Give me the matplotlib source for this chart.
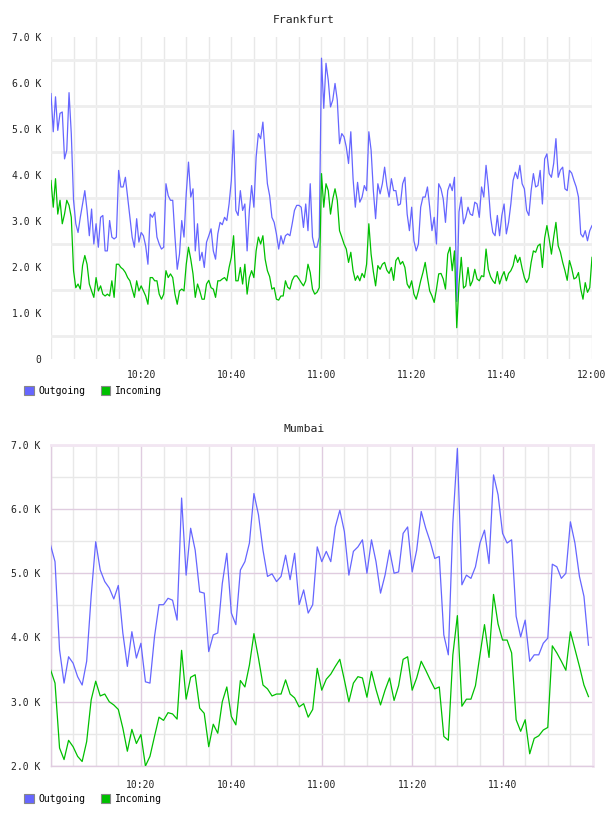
import numpy as np
import pandas as pd
import matplotlib
matplotlib.use("Agg")
import matplotlib.pyplot as plt
import matplotlib.dates as mdates
from matplotlib.patches import Patch
from matplotlib.ticker import FixedLocator

plt.rcParams['font.family'] = ['DejaVu Sans Mono']

# ---------------- data ----------------
fra_out = [5.77, 4.94, 5.70, 4.97, 5.34, 5.37, 4.35, 4.54, 5.79, 4.90,
           3.45, 2.94, 2.75, 3.08, 3.37, 3.66, 3.23, 2.68, 3.26, 2.50,
           2.94, 2.43, 3.08, 3.12, 2.35, 2.35, 3.01, 2.65, 2.61, 2.65,
           4.10, 3.74, 3.74, 3.95, 3.52, 3.08, 2.65, 2.43, 3.05, 2.54,
           2.75, 2.68, 2.46, 2.06, 3.15, 3.08, 3.19, 2.65, 2.50, 2.39,
           2.43, 3.81, 3.55, 3.45, 3.45, 2.65, 1.95, 2.28, 3.01, 2.65,
           3.60, 4.28, 3.52, 3.70, 2.35, 2.94, 2.14, 2.32, 1.99, 2.54,
           2.68, 2.83, 2.35, 2.17, 2.72, 2.97, 2.92, 3.08, 3.01, 3.37,
           3.88, 4.97, 3.23, 3.12, 3.66, 3.23, 3.37, 2.35, 3.23, 3.77,
           3.30, 4.39, 4.90, 4.79, 5.15, 4.46, 3.81, 3.55, 3.08, 2.97,
           2.72, 2.39, 2.68, 2.50, 2.68, 2.72, 2.68, 2.94, 3.23, 3.34,
           3.34, 3.30, 2.86, 3.37, 2.79, 3.81, 2.65, 2.43, 2.43, 2.65,
           6.54, 5.45, 6.43, 6.06, 5.48, 5.63, 5.99, 5.63, 4.68, 4.90,
           4.83, 4.61, 4.25, 4.94, 3.92, 3.30, 3.84, 3.41, 3.52, 3.77,
           3.66, 4.94, 4.54, 3.66, 3.05, 3.81, 3.59, 3.81, 4.17, 3.77,
           3.52, 3.92, 3.66, 3.66, 3.34, 3.37, 3.81, 3.95, 3.15, 2.79,
           3.30, 2.57, 2.35, 2.50, 3.30, 3.52, 3.52, 3.74, 3.30, 2.79,
           3.08, 2.50, 3.81, 3.70, 3.48, 2.97, 3.66, 3.81, 3.66, 3.95,
           1.25, 3.20, 3.52, 2.94, 3.08, 3.30, 3.15, 3.12, 3.41, 3.37,
           3.08, 3.74, 3.52, 4.21, 3.74, 3.08, 2.75, 2.68, 3.12, 2.68,
           3.12, 3.37, 2.72, 2.97, 3.37, 3.88, 4.06, 3.92, 4.21, 3.81,
           3.70, 3.23, 3.12, 3.66, 4.03, 3.74, 3.77, 4.10, 3.37, 4.35,
           4.46, 4.03, 3.95, 4.25, 4.79, 3.95, 4.11, 4.17, 3.70, 3.66,
           4.10, 4.04, 3.88, 3.74, 3.52, 2.72, 2.65, 2.79, 2.57, 2.79, 2.90]

fra_in = [3.88, 3.30, 3.92, 3.15, 3.45, 2.94, 3.15, 3.45, 3.34, 3.08,
          1.92, 1.55, 1.63, 1.52, 2.03, 2.25, 2.06, 1.63, 1.48, 1.34,
          1.77, 1.48, 1.59, 1.41, 1.37, 1.41, 1.37, 1.70, 1.34, 2.06,
          2.06, 1.99, 1.95, 1.88, 1.77, 1.70, 1.52, 1.34, 1.70, 1.48,
          1.59, 1.48, 1.37, 1.19, 1.77, 1.77, 1.70, 1.70, 1.41, 1.30,
          1.41, 1.92, 1.77, 1.85, 1.77, 1.41, 1.19, 1.48, 1.52, 1.48,
          2.06, 2.43, 2.17, 1.85, 1.34, 1.63, 1.48, 1.30, 1.30, 1.63,
          1.71, 1.55, 1.52, 1.34, 1.70, 1.70, 1.74, 1.77, 1.70, 1.99,
          2.21, 2.68, 1.70, 1.70, 1.99, 1.63, 2.06, 1.41, 1.77, 1.92,
          1.77, 2.35, 2.65, 2.50, 2.68, 2.17, 1.92, 1.79, 1.52, 1.55,
          1.30, 1.28, 1.37, 1.37, 1.70, 1.56, 1.52, 1.71, 1.80, 1.81,
          1.74, 1.66, 1.59, 1.70, 2.06, 1.88, 1.52, 1.41, 1.45, 1.55,
          4.03, 3.30, 3.81, 3.66, 3.15, 3.48, 3.70, 3.45, 2.79, 2.65,
          2.50, 2.39, 2.10, 2.32, 1.92, 1.71, 1.81, 1.70, 1.86, 1.77,
          2.06, 2.94, 2.28, 1.90, 1.59, 2.03, 1.95, 2.06, 2.10, 1.93,
          1.86, 1.99, 1.71, 2.14, 2.21, 2.06, 2.12, 1.99, 1.63, 1.54,
          1.70, 1.41, 1.30, 1.48, 1.70, 1.88, 2.10, 1.77, 1.48, 1.37,
          1.23, 1.52, 1.85, 1.86, 1.74, 1.52, 2.28, 2.43, 1.92, 2.35,
          0.68, 1.63, 2.21, 1.54, 1.59, 1.99, 1.59, 1.70, 1.95, 1.74,
          1.70, 1.81, 1.79, 2.39, 1.95, 1.79, 1.70, 1.64, 1.90, 1.63,
          1.79, 1.90, 1.70, 1.86, 1.92, 2.03, 2.26, 2.10, 2.21, 1.97,
          1.77, 1.66, 1.76, 2.10, 2.35, 2.32, 2.46, 2.50, 1.99, 2.63,
          2.90, 2.61, 2.28, 2.65, 2.97, 2.46, 2.32, 2.10, 1.92, 1.71,
          2.14, 1.97, 1.74, 1.77, 1.88, 1.52, 1.30, 1.66, 1.45, 1.55, 2.21]

mum_out = [5.44, 5.18, 3.81, 3.29, 3.70, 3.60, 3.39, 3.26, 3.63, 4.65,
           5.49, 5.05, 4.87, 4.77, 4.60, 4.81, 4.07, 3.55, 4.09, 3.68,
           3.91, 3.31, 3.29, 4.01, 4.51, 4.51, 4.61, 4.58, 4.27, 6.17,
           4.97, 5.70, 5.36, 4.71, 4.69, 3.78, 4.04, 4.07, 4.84, 5.31,
           4.38, 4.20, 5.05, 5.18, 5.47, 6.24, 5.91, 5.36, 4.95, 4.99,
           4.87, 4.95, 5.28, 4.90, 5.31, 4.51, 4.74, 4.38, 4.51, 5.41,
           5.18, 5.34, 5.18, 5.72, 5.98, 5.65, 4.97, 5.34, 5.41, 5.52,
           5.00, 5.52, 5.18, 4.69, 4.97, 5.36, 5.00, 5.02, 5.62, 5.72,
           5.02, 5.36, 5.96, 5.70, 5.49, 5.23, 5.26, 4.04, 3.73, 5.78,
           6.94, 4.82, 4.97, 4.92, 5.10, 5.47, 5.67, 5.15, 6.53, 6.22,
           5.62, 5.47, 5.52, 4.33, 4.01, 4.27, 3.63, 3.73, 3.73, 3.91,
           3.99, 5.14, 5.10, 4.92, 5.00, 5.80, 5.47, 4.95, 4.64, 3.88]

mum_in = [3.50, 3.29, 2.28, 2.10, 2.40, 2.30, 2.15, 2.07, 2.38, 3.03,
          3.32, 3.09, 3.12, 3.00, 2.95, 2.88, 2.59, 2.23, 2.57, 2.35,
          2.49, 2.00, 2.15, 2.46, 2.76, 2.71, 2.83, 2.81, 2.73, 3.80,
          3.04, 3.38, 3.42, 2.90, 2.82, 2.30, 2.65, 2.51, 3.00, 3.23,
          2.77, 2.64, 3.33, 3.23, 3.57, 4.06, 3.68, 3.26, 3.20, 3.09,
          3.12, 3.12, 3.34, 3.12, 3.06, 2.92, 2.97, 2.76, 2.88, 3.52,
          3.18, 3.35, 3.43, 3.55, 3.66, 3.34, 3.00, 3.29, 3.39, 3.37,
          3.07, 3.47, 3.19, 2.95, 3.18, 3.37, 3.02, 3.25, 3.66, 3.70,
          3.18, 3.37, 3.63, 3.49, 3.34, 3.20, 3.23, 2.46, 2.40, 3.73,
          4.34, 2.93, 3.04, 3.04, 3.25, 3.73, 4.20, 3.69, 4.67, 4.21,
          3.96, 3.96, 3.76, 2.72, 2.54, 2.72, 2.19, 2.43, 2.47, 2.56,
          2.60, 3.87, 3.76, 3.63, 3.49, 4.09, 3.82, 3.55, 3.26, 3.08]

series_names = ["Outgoing", "Incoming"]
series_colors = ["#6666ff", "#00c000"]

fra_yticks = [0, 1, 2, 3, 4, 5, 6, 7]
fra_ylabels = ["0", "1.0 K", "2.0 K", "3.0 K", "4.0 K", "5.0 K", "6.0 K", "7.0 K"]
fra_yminor = [0.5, 1.5, 2.5, 3.5, 4.5, 5.5, 6.5]
mum_yticks = [2, 3, 4, 5, 6, 7]
mum_ylabels = ["2.0 K", "3.0 K", "4.0 K", "5.0 K", "6.0 K", "7.0 K"]
mum_yminor = [2.5, 3.5, 4.5, 5.5, 6.5]
fra_xlabels = ["10:20", "10:40", "11:00", "11:20", "11:40", "12:00"]
mum_xlabels = ["10:20", "10:40", "11:00", "11:20", "11:40"]

day = "2024-01-01 "
fra_times = pd.date_range(day + "10:00", periods=len(fra_out), freq="30s")
mum_times = pd.date_range(day + "10:00", periods=len(mum_out), freq="1min")
t_start = pd.Timestamp(day + "10:00")
t_end = pd.Timestamp(day + "12:00")

# ---------------- figure ----------------
W, H = 608, 816
fig = plt.figure(figsize=(W / 100, H / 100), dpi=100)

def px_axes(l, t, r, b):
    return fig.add_axes([l / W, 1 - b / H, (r - l) / W, (b - t) / H])

tick_fs = 7
grey = "#e8e8e8"
pink = "#e0cce0"
line_w = 0.9

# ---- Frankfurt ----
ax1 = px_axes(51, 37, 592, 359)
ax1.plot(fra_times, fra_out, color=series_colors[0], lw=line_w, zorder=3)
ax1.plot(fra_times, fra_in, color=series_colors[1], lw=line_w, zorder=3)
ax1.set_xlim(t_start, t_end)
ax1.set_ylim(0, 7)
ax1.set_yticks(fra_yticks)
ax1.set_yticklabels(fra_ylabels)
ax1.yaxis.set_minor_locator(FixedLocator(fra_yminor))
ax1.set_xticks([pd.Timestamp(day + s) for s in fra_xlabels])
ax1.set_xticklabels(fra_xlabels)
ax1.xaxis.set_minor_locator(mdates.MinuteLocator(byminute=range(0, 60, 5)))
ax1.grid(False)
ax1.grid(True, which='minor', axis='y', color="#eeeeee", lw=2.0)
ax1.grid(True, which='both', axis='x', color=grey, lw=1.0)
ax1.set_axisbelow(True)
for s in ax1.spines.values():
    s.set_visible(False)
ax1.tick_params(which='both', length=0)
ax1.tick_params(axis='y', pad=7, labelsize=tick_fs, labelcolor="#222222")
ax1.tick_params(axis='x', pad=8, labelsize=tick_fs, labelcolor="#222222")

fig.text(304 / W, 1 - 20 / H, "Frankfurt", ha='center', va='center',
         fontsize=8.2, color="#222222")

# ---- Mumbai ----
ax2 = px_axes(50.5, 444.7, 593, 766)
ax2.plot(mum_times, mum_out, color=series_colors[0], lw=line_w, zorder=3)
ax2.plot(mum_times, mum_in, color=series_colors[1], lw=line_w, zorder=3)
ax2.set_xlim(t_start, t_end)
ax2.set_ylim(2, 7)
ax2.set_yticks(mum_yticks)
ax2.set_yticklabels(mum_ylabels)
ax2.yaxis.set_minor_locator(FixedLocator(mum_yminor))
ax2.set_xticks([pd.Timestamp(day + s) for s in mum_xlabels])
ax2.set_xticklabels(mum_xlabels)
ax2.xaxis.set_minor_locator(mdates.MinuteLocator(byminute=range(0, 60, 5)))
ax2.grid(True, which='major', color=pink, lw=1.0)
ax2.grid(True, which='minor', color=grey, lw=1.0)
ax2.set_axisbelow(True)
for side in ["left", "bottom"]:
    ax2.spines[side].set_color(pink)
    ax2.spines[side].set_linewidth(1.0)
for side in ["top", "right"]:
    ax2.spines[side].set_color("#f2e6f2")
    ax2.spines[side].set_linewidth(2.0)
ax2.tick_params(which='both', length=0)
ax2.tick_params(axis='y', pad=7, labelsize=tick_fs, labelcolor="#222222")
ax2.tick_params(axis='x', pad=10, labelsize=tick_fs, labelcolor="#222222")

fig.text(304 / W, 1 - 429 / H, "Mumbai", ha='center', va='center',
         fontsize=8.2, color="#222222")

# ---- legends ----
def add_legend(y_top_px):
    handles = [Patch(facecolor=c, edgecolor="#888888", lw=0.8, label=n)
               for n, c in zip(series_names, series_colors)]
    fig.legend(handles=handles, loc='upper left',
               bbox_to_anchor=(24 / W, 1 - y_top_px / H),
               ncol=2, frameon=False, fontsize=7, borderpad=0,
               borderaxespad=0, handlelength=1.0, handleheight=1.0,
               handletextpad=0.45, columnspacing=1.6)

add_legend(386)
add_legend(794)

fig.savefig("out.png", dpi=100)
